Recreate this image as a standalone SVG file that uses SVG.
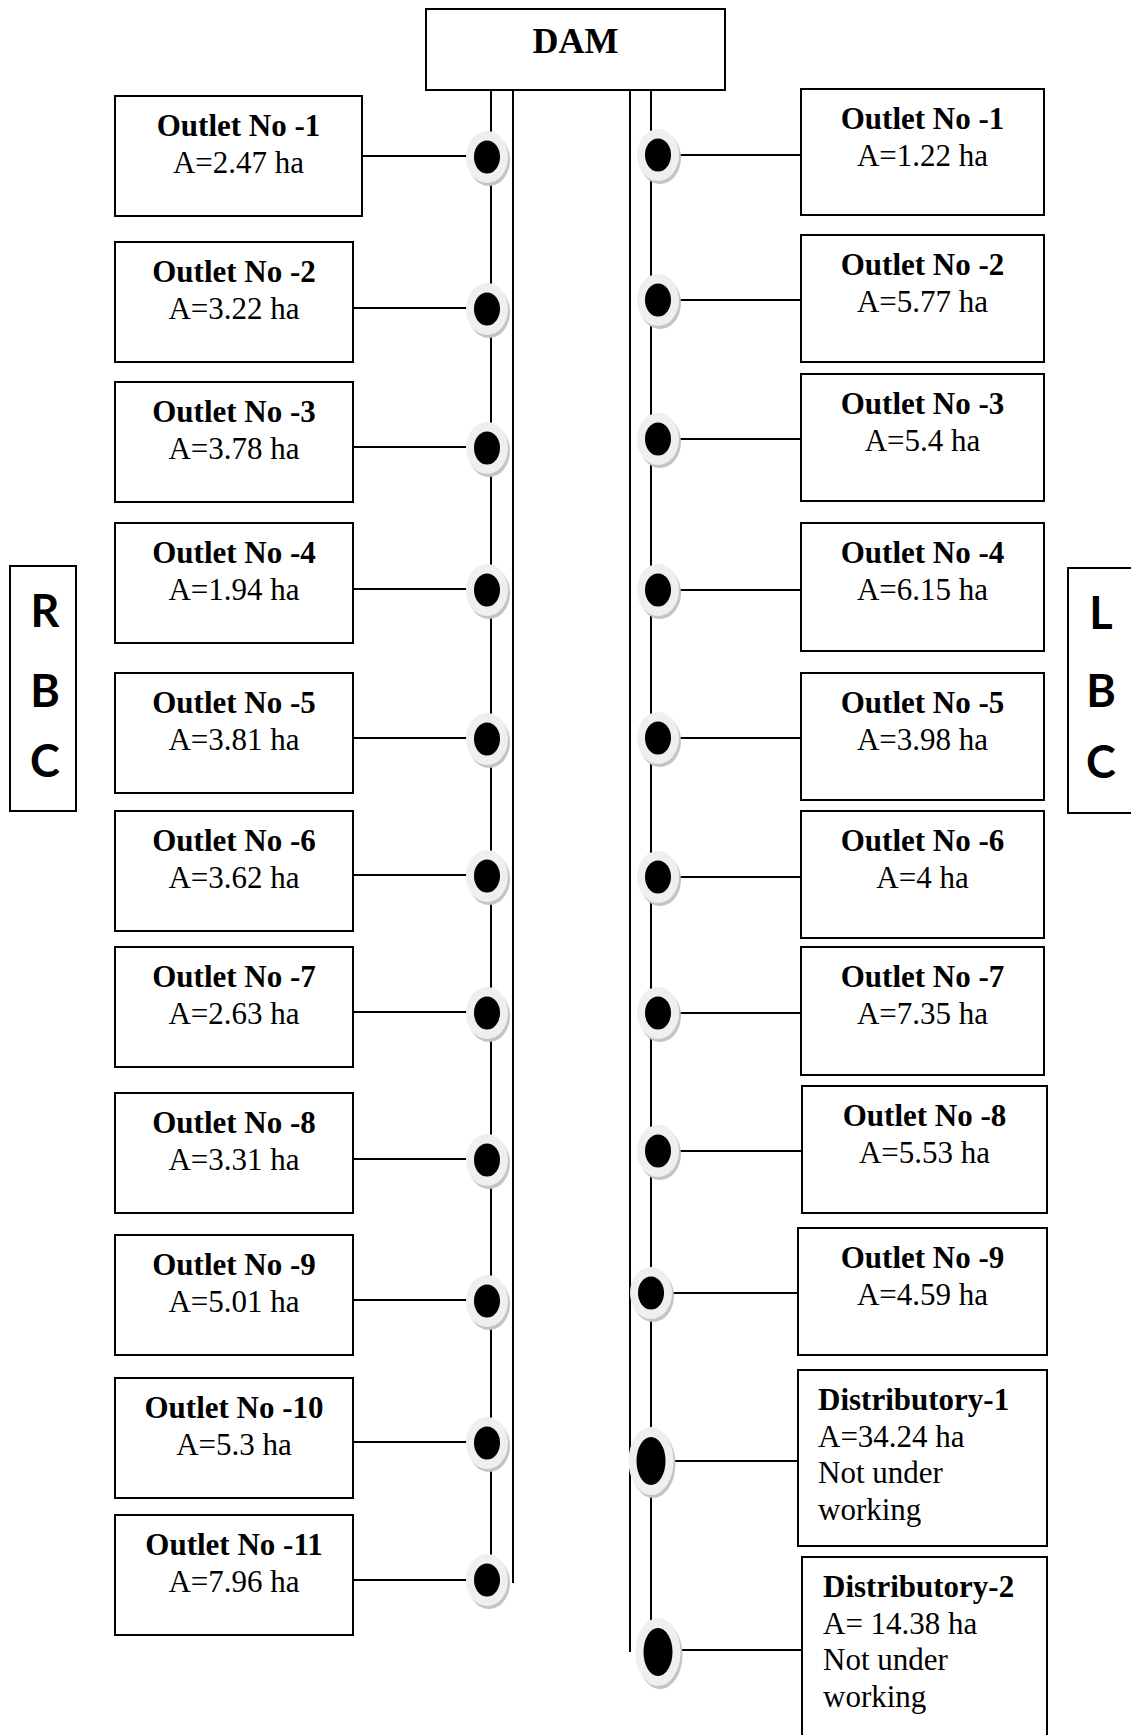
<svg xmlns="http://www.w3.org/2000/svg" xmlns:xlink="http://www.w3.org/1999/xlink" width="1131" height="1735" viewBox="0 0 1131 1735">
<style>
.box{fill:#fff;stroke:#000;stroke-width:2}
.ln{stroke:#000;stroke-width:2;fill:none}
.b{font-family:"Liberation Serif","Times New Roman",serif;font-weight:bold;font-size:31px;fill:#000}
.r{font-family:"Liberation Serif","Times New Roman",serif;font-size:31px;fill:#000}
.c{text-anchor:middle}
.side{font-family:Lato,"Open Sans",sans-serif;font-weight:bold;font-size:45px;fill:#000;text-anchor:middle}
</style>
<defs>
<g id="dot">
<ellipse cx="2" cy="3" rx="21" ry="26" fill="#c4c4c4"/>
<ellipse cx="0" cy="0" rx="21" ry="26" fill="#efefef"/>
<ellipse cx="0" cy="0" rx="13" ry="16.5" fill="#000"/>
</g>
<g id="dotL">
<ellipse cx="2" cy="3" rx="22.5" ry="34" fill="#c4c4c4"/>
<ellipse cx="0" cy="0" rx="22.5" ry="34" fill="#efefef"/>
<ellipse cx="0" cy="0" rx="14.5" ry="24" fill="#000"/>
</g>
</defs>
<rect width="1131" height="1735" fill="#fff"/>

<g id="connectors">
<line class="ln" x1="491" y1="90" x2="491" y2="1580"/>
<line class="ln" x1="513" y1="90" x2="513" y2="1583"/>
<line class="ln" x1="630" y1="90" x2="630" y2="1652"/>
<line class="ln" x1="651" y1="90" x2="651" y2="1652"/>
<line class="ln" x1="362" y1="156" x2="487" y2="156"/>
<line class="ln" x1="353" y1="308" x2="487" y2="308"/>
<line class="ln" x1="353" y1="447" x2="487" y2="447"/>
<line class="ln" x1="353" y1="589" x2="487" y2="589"/>
<line class="ln" x1="353" y1="738" x2="487" y2="738"/>
<line class="ln" x1="353" y1="875" x2="487" y2="875"/>
<line class="ln" x1="353" y1="1012" x2="487" y2="1012"/>
<line class="ln" x1="353" y1="1159" x2="487" y2="1159"/>
<line class="ln" x1="353" y1="1300" x2="487" y2="1300"/>
<line class="ln" x1="353" y1="1442" x2="487" y2="1442"/>
<line class="ln" x1="353" y1="1580" x2="487" y2="1580"/>
<line class="ln" x1="658" y1="155" x2="801" y2="155"/>
<line class="ln" x1="658" y1="300" x2="801" y2="300"/>
<line class="ln" x1="658" y1="439" x2="801" y2="439"/>
<line class="ln" x1="658" y1="590" x2="801" y2="590"/>
<line class="ln" x1="658" y1="738" x2="801" y2="738"/>
<line class="ln" x1="658" y1="877" x2="801" y2="877"/>
<line class="ln" x1="658" y1="1013" x2="801" y2="1013"/>
<line class="ln" x1="658" y1="1151" x2="802" y2="1151"/>
<line class="ln" x1="651" y1="1293" x2="798" y2="1293"/>
<line class="ln" x1="651" y1="1461" x2="798" y2="1461"/>
<line class="ln" x1="658" y1="1650" x2="802" y2="1650"/>
<use xlink:href="#dot" x="487" y="157"/>
<use xlink:href="#dot" x="487" y="309"/>
<use xlink:href="#dot" x="487" y="448"/>
<use xlink:href="#dot" x="487" y="590"/>
<use xlink:href="#dot" x="487" y="739"/>
<use xlink:href="#dot" x="487" y="876"/>
<use xlink:href="#dot" x="487" y="1013"/>
<use xlink:href="#dot" x="487" y="1160"/>
<use xlink:href="#dot" x="487" y="1301"/>
<use xlink:href="#dot" x="487" y="1443"/>
<use xlink:href="#dot" x="487" y="1580"/>
<use xlink:href="#dot" x="658" y="155"/>
<use xlink:href="#dot" x="658" y="300"/>
<use xlink:href="#dot" x="658" y="439"/>
<use xlink:href="#dot" x="658" y="590"/>
<use xlink:href="#dot" x="658" y="738"/>
<use xlink:href="#dot" x="658" y="877"/>
<use xlink:href="#dot" x="658" y="1013"/>
<use xlink:href="#dot" x="658" y="1151"/>
<use xlink:href="#dot" x="651" y="1293"/>
<use xlink:href="#dotL" x="651" y="1461"/>
<use xlink:href="#dotL" x="658" y="1652"/>
</g>

<g id="dam"><rect class="box" x="426" y="9" width="299" height="81"/><text class="b c" x="575.5" y="53" style="font-size:36px">DAM</text></g>
<g id="rbc"><rect class="box" x="10" y="566" width="66" height="245"/><text class="side" x="45" y="627">R</text><text class="side" x="45" y="707">B</text><text class="side" x="45" y="777">C</text></g>
<g id="lbc"><rect class="box" x="1068" y="568" width="80" height="245"/><text class="side" x="1101" y="629">L</text><text class="side" x="1101" y="707">B</text><text class="side" x="1101" y="778">C</text></g>

<g id="rbc-outlet-1"><rect class="box" x="115" y="96" width="247" height="120"/><text class="b c" x="238.5" y="136">Outlet No -1</text><text class="r c" x="238.5" y="173">A=2.47 ha</text></g>
<g id="rbc-outlet-2"><rect class="box" x="115" y="242" width="238" height="120"/><text class="b c" x="234" y="282">Outlet No -2</text><text class="r c" x="234" y="319">A=3.22 ha</text></g>
<g id="rbc-outlet-3"><rect class="box" x="115" y="382" width="238" height="120"/><text class="b c" x="234" y="422">Outlet No -3</text><text class="r c" x="234" y="459">A=3.78 ha</text></g>
<g id="rbc-outlet-4"><rect class="box" x="115" y="523" width="238" height="120"/><text class="b c" x="234" y="563">Outlet No -4</text><text class="r c" x="234" y="600">A=1.94 ha</text></g>
<g id="rbc-outlet-5"><rect class="box" x="115" y="673" width="238" height="120"/><text class="b c" x="234" y="713">Outlet No -5</text><text class="r c" x="234" y="750">A=3.81 ha</text></g>
<g id="rbc-outlet-6"><rect class="box" x="115" y="811" width="238" height="120"/><text class="b c" x="234" y="851">Outlet No -6</text><text class="r c" x="234" y="888">A=3.62 ha</text></g>
<g id="rbc-outlet-7"><rect class="box" x="115" y="947" width="238" height="120"/><text class="b c" x="234" y="987">Outlet No -7</text><text class="r c" x="234" y="1024">A=2.63 ha</text></g>
<g id="rbc-outlet-8"><rect class="box" x="115" y="1093" width="238" height="120"/><text class="b c" x="234" y="1133">Outlet No -8</text><text class="r c" x="234" y="1170">A=3.31 ha</text></g>
<g id="rbc-outlet-9"><rect class="box" x="115" y="1235" width="238" height="120"/><text class="b c" x="234" y="1275">Outlet No -9</text><text class="r c" x="234" y="1312">A=5.01 ha</text></g>
<g id="rbc-outlet-10"><rect class="box" x="115" y="1378" width="238" height="120"/><text class="b c" x="234" y="1418">Outlet No -10</text><text class="r c" x="234" y="1455">A=5.3 ha</text></g>
<g id="rbc-outlet-11"><rect class="box" x="115" y="1515" width="238" height="120"/><text class="b c" x="234" y="1555">Outlet No -11</text><text class="r c" x="234" y="1592">A=7.96 ha</text></g>

<g id="lbc-outlet-1"><rect class="box" x="801" y="89" width="243" height="126"/><text class="b c" x="922.5" y="129">Outlet No -1</text><text class="r c" x="922.5" y="166">A=1.22 ha</text></g>
<g id="lbc-outlet-2"><rect class="box" x="801" y="235" width="243" height="127"/><text class="b c" x="922.5" y="275">Outlet No -2</text><text class="r c" x="922.5" y="312">A=5.77 ha</text></g>
<g id="lbc-outlet-3"><rect class="box" x="801" y="374" width="243" height="127"/><text class="b c" x="922.5" y="414">Outlet No -3</text><text class="r c" x="922.5" y="451">A=5.4 ha</text></g>
<g id="lbc-outlet-4"><rect class="box" x="801" y="523" width="243" height="128"/><text class="b c" x="922.5" y="563">Outlet No -4</text><text class="r c" x="922.5" y="600">A=6.15 ha</text></g>
<g id="lbc-outlet-5"><rect class="box" x="801" y="673" width="243" height="127"/><text class="b c" x="922.5" y="713">Outlet No -5</text><text class="r c" x="922.5" y="750">A=3.98 ha</text></g>
<g id="lbc-outlet-6"><rect class="box" x="801" y="811" width="243" height="127"/><text class="b c" x="922.5" y="851">Outlet No -6</text><text class="r c" x="922.5" y="888">A=4 ha</text></g>
<g id="lbc-outlet-7"><rect class="box" x="801" y="947" width="243" height="128"/><text class="b c" x="922.5" y="987">Outlet No -7</text><text class="r c" x="922.5" y="1024">A=7.35 ha</text></g>
<g id="lbc-outlet-8"><rect class="box" x="802" y="1086" width="245" height="127"/><text class="b c" x="924.5" y="1126">Outlet No -8</text><text class="r c" x="924.5" y="1163">A=5.53 ha</text></g>
<g id="lbc-outlet-9"><rect class="box" x="798" y="1228" width="249" height="127"/><text class="b c" x="922.5" y="1268">Outlet No -9</text><text class="r c" x="922.5" y="1305">A=4.59 ha</text></g>
<g id="lbc-distributory-1"><rect class="box" x="798" y="1370" width="249" height="176"/><text class="b" x="818" y="1410">Distributory-1</text><text class="r" x="818" y="1446.5">A=34.24 ha</text><text class="r" x="818" y="1483">Not under</text><text class="r" x="818" y="1519.5">working</text></g>
<g id="lbc-distributory-2"><rect class="box" x="802" y="1557" width="245" height="190"/><text class="b" x="823" y="1597">Distributory-2</text><text class="r" x="823" y="1633.5">A= 14.38 ha</text><text class="r" x="823" y="1670">Not under</text><text class="r" x="823" y="1706.5">working</text></g>
</svg>
